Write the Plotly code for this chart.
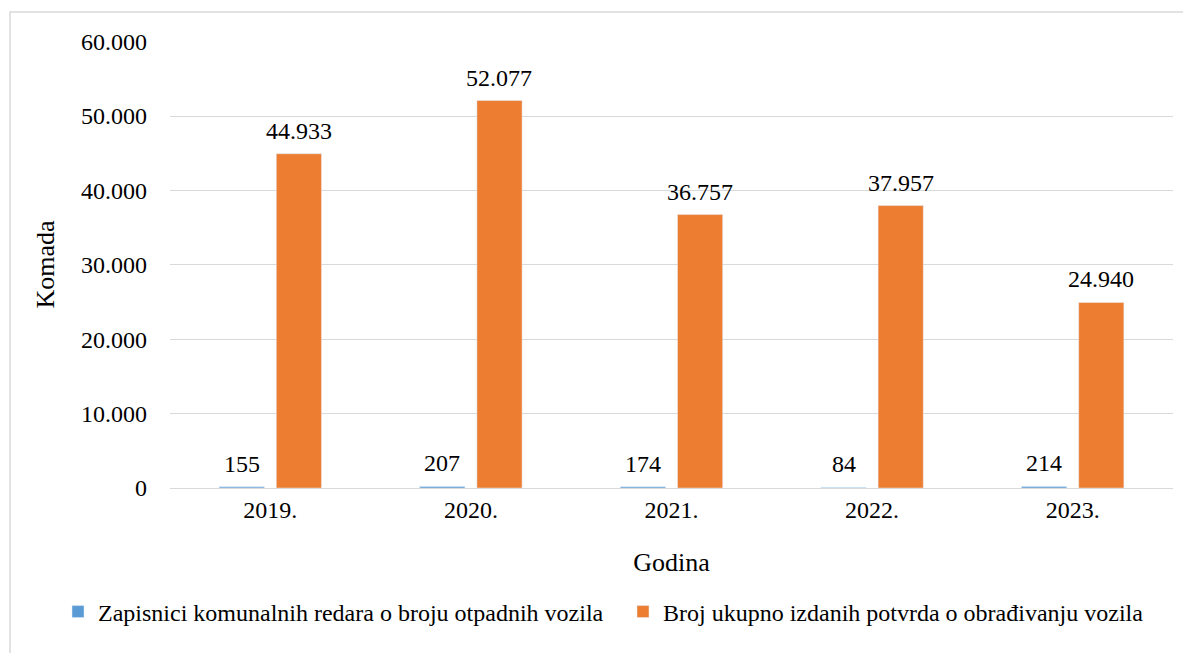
import plotly.graph_objects as go

years = ["2019.", "2020.", "2021.", "2022.", "2023."]
zapisnici = [155, 207, 174, 84, 214]
potvrde = [44933, 52077, 36757, 37957, 24940]
series_names = ["Zapisnici komunalnih redara o broju otpadnih vozila",
                "Broj ukupno izdanih potvrda o obrađivanju vozila"]
colors = ["#5b9bd5", "#ed7d31"]
y_ticks = [0, 10000, 20000, 30000, 40000, 50000, 60000]

FONT = "Liberation Serif, Times New Roman, serif"
OFF = 8  # page body margin
W, H = 1191 - OFF, 653 - OFF
L, R, T, B = 170 - OFF, 1173 - OFF, 41 - OFF, 488 - OFF
BARGAP, BARGROUPGAP = 0.43, 0.21

def px_x(x):
    return (x - OFF - L) / (R - L)

def px_y(y):
    return (B - (y - OFF)) / (B - T)

fmt = lambda v: f"{v:,d}".replace(",", ".")

fig = go.Figure()
series = [zapisnici, potvrde]
legends = ["legend", "legend2"]
for i, vals in enumerate(series):
    fig.add_trace(go.Bar(x=years, y=vals, name=series_names[i], marker_color=colors[i],
                         legend=legends[i], hoverinfo="x+y"))

# value labels above bars (category index on the category axis)
cat_w = (R - L) / len(years)
half_off = cat_w * (1 - BARGAP) / 4
annotations = []
for i, vals in enumerate(series):
    sign = -1 if i == 0 else 1
    for j, v in enumerate(vals):
        annotations.append(dict(x=j, y=v, text=fmt(v), showarrow=False,
                                xref="x", yref="y",
                                xanchor="center", yanchor="bottom",
                                xshift=sign * half_off, yshift=8,
                                font=dict(family=FONT, size=24, color="#000000")))

leg_common = dict(orientation="h", xref="container", yref="container",
                  xanchor="left", yanchor="middle", y=1 - (612 - OFF) / H,
                  font=dict(family=FONT, size=24, color="#000000"),
                  itemwidth=30, bgcolor="rgba(0,0,0,0)", borderwidth=0)

fig.update_layout(
    width=W, height=H,
    margin=dict(l=L, r=W - R, t=T, b=H - B, autoexpand=False),
    paper_bgcolor="white", plot_bgcolor="white",
    separators=",.",
    font=dict(family=FONT, size=24, color="#000000"),
    barmode="group", bargap=BARGAP, bargroupgap=BARGROUPGAP,
    showlegend=True,
    legend=dict(x=(58 - OFF) / W, **leg_common),
    legend2=dict(x=(623 - OFF) / W, **leg_common),
    xaxis=dict(type="category", range=[-0.5, len(years) - 0.5],
               showline=True, linecolor="#d9d9d9", linewidth=1, showgrid=False,
               ticks="", ticklabelstandoff=0,
               tickfont=dict(family=FONT, size=24, color="#000000"),
               title=dict(text="Godina", font=dict(family=FONT, size=26, color="#000000"), standoff=31)),
    yaxis=dict(range=[0, 60080], tickvals=y_ticks, tickformat=",d", showgrid=True,
               gridcolor="#d9d9d9", gridwidth=1, zeroline=False, showline=False,
               ticks="", ticklabelstandoff=22,
               tickfont=dict(family=FONT, size=24, color="#000000"),
               title=dict(text="Komada", font=dict(family=FONT, size=26, color="#000000"), standoff=18)),
    annotations=annotations,
    shapes=[dict(type="rect", xref="paper", yref="paper",
                 x0=px_x(10), x1=px_x(1200), y0=px_y(700), y1=px_y(12),
                 line=dict(color="#d9d9d9", width=1.5), fillcolor="rgba(0,0,0,0)", layer="below")],
)

fig.write_html("out.html")
